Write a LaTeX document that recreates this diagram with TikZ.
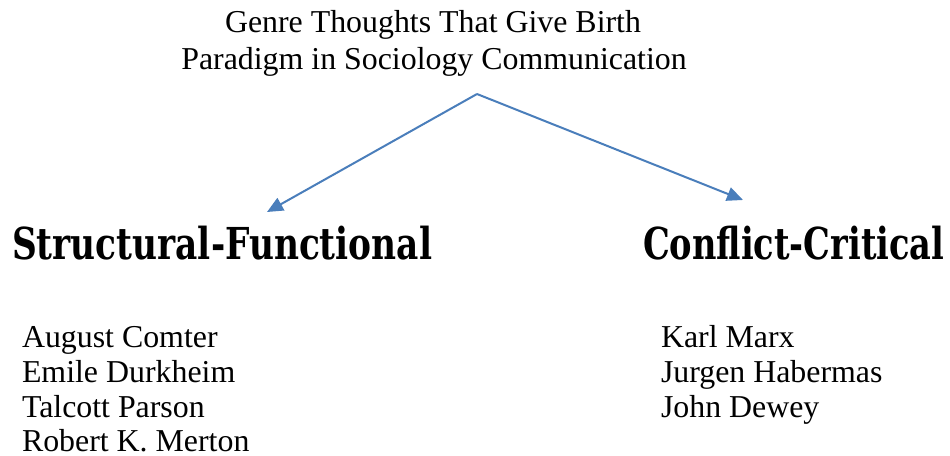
\documentclass[tikz,border=0pt]{standalone}
\usepackage{fontspec}
\setmainfont{Liberation Serif}
\newfontfamily\headfont{DejaVu Serif Condensed}
\usetikzlibrary{arrows.meta}
\definecolor{arrowblue}{RGB}{74,126,187}
\tikzset{
  px/.style={x=0.75pt,y=-0.75pt},
  plain/.style={inner sep=0pt,outer sep=0pt,font=\fontsize{23.9}{28}\selectfont},
  heading/.style={inner sep=0pt,outer sep=0pt,font=\headfont\bfseries\fontsize{33}{40}\selectfont},
  conn/.style={draw=arrowblue,line width=1.5pt,-{Triangle[length=12pt,width=10.5pt]}}
}
\begin{document}
\begin{tikzpicture}[px]
\useasboundingbox (0,0) rectangle (950,456);
\node[plain,anchor=base] (t1) at (433,33) {Genre Thoughts That Give Birth};
\node[plain,anchor=base] (t2) at (434,70) {Paradigm in Sociology Communication};
\coordinate (apex) at (477,94);
\coordinate (ltip) at (267,212);
\coordinate (rtip) at (743,200);
\draw[conn] (apex) -- (ltip);
\draw[conn] (apex) -- (rtip);
\node[heading,anchor=base west] (sf) at (12,259) {\resizebox{315pt}{\height}{Structural-Functional}};
\node[heading,anchor=base west] (cc) at (643,259) {\resizebox{226pt}{\height}{Conflict-Critical}};
\node[plain,anchor=base west] (l1) at (22,347) {August Comter};
\node[plain,anchor=base west] (l2) at (22,382) {Emile Durkheim};
\node[plain,anchor=base west] (l3) at (22,417) {Talcott Parson};
\node[plain,anchor=base west] (l4) at (22,451.5) {Robert K. Merton};
\node[plain,anchor=base west] (r1) at (661,347) {Karl Marx};
\node[plain,anchor=base west] (r2) at (661,382) {Jurgen Habermas};
\node[plain,anchor=base west] (r3) at (661,417) {John Dewey};
\end{tikzpicture}
\end{document}
